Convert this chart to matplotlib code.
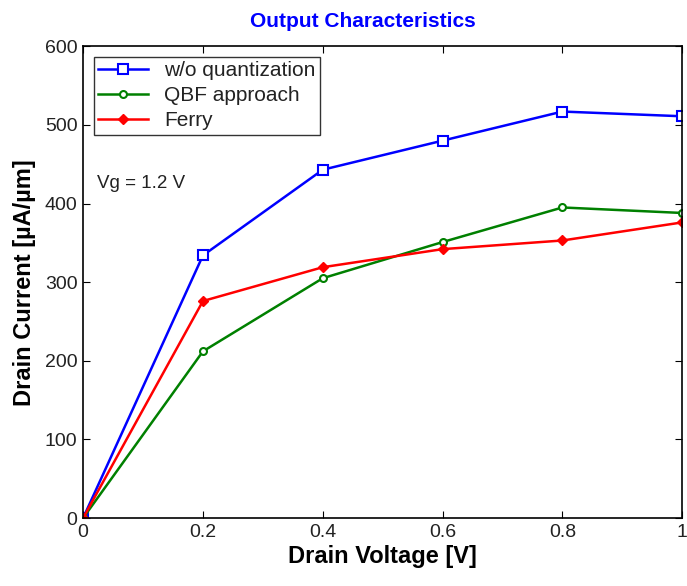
import numpy as np
import matplotlib.pyplot as plt

plt.rcParams['font.family'] = ['Liberation Sans', 'DejaVu Sans']

# drain voltage [V]
vd = [0, 0.2, 0.4, 0.6, 0.8, 1.0]

# drain current [uA/um]
id_noq = [0, 334, 443, 480, 517, 511]
id_qbf = [0, 212, 305, 351, 395, 388]
id_ferry = [0, 276, 319, 342, 353, 376]

xticks = [0, 0.2, 0.4, 0.6, 0.8, 1]
xticklabels = ['0', '0.2', '0.4', '0.6', '0.8', '1']
yticks = [0, 100, 200, 300, 400, 500, 600]

fig = plt.figure(figsize=(6.87, 5.86), dpi=100)
ax = fig.add_axes([0.121, 0.116, 0.872, 0.805])

ax.plot(vd, id_noq, '-s', color='blue', lw=1.8, ms=7, mfc='white', mew=1.5,
        label='w/o quantization')
ax.plot(vd, id_qbf, '-o', color='green', lw=1.8, ms=5, mfc='white', mew=1.5,
        label='QBF approach')
ax.plot(vd, id_ferry, '-D', color='red', lw=1.8, ms=5, mfc='red', mew=1.0,
        label='Ferry')

ax.set_xlim(0, 1)
ax.set_ylim(0, 600)
ax.set_xticks(xticks)
ax.set_xticklabels(xticklabels)
ax.set_yticks(yticks)
ax.tick_params(direction='in', top=True, right=True, labelsize=14, length=5, pad=4,
               labelcolor='#222222')
for s in ax.spines.values():
    s.set_linewidth(1.2)

ax.set_xlabel('Drain Voltage [V]', fontsize=17, fontweight='bold', labelpad=3)
ax.set_ylabel('Drain Current [µA/µm]', fontsize=17, fontweight='bold', labelpad=6)
ax.set_title('Output Characteristics', color='blue', fontsize=15, fontweight='bold',
             pad=14, x=0.467)

ax.text(0.023, 426, 'Vg = 1.2 V', fontsize=13.5, va='center', color='#222222')

leg = ax.legend(loc='upper left', fontsize=15, frameon=True, fancybox=False,
                edgecolor='black', handlelength=2.4, borderaxespad=0.5,
                labelspacing=0.3, borderpad=0.2, handletextpad=0.8)
leg.get_frame().set_linewidth(1.0)
for t in leg.get_texts():
    t.set_color('#222222')

fig.savefig('out.png', dpi=100)
